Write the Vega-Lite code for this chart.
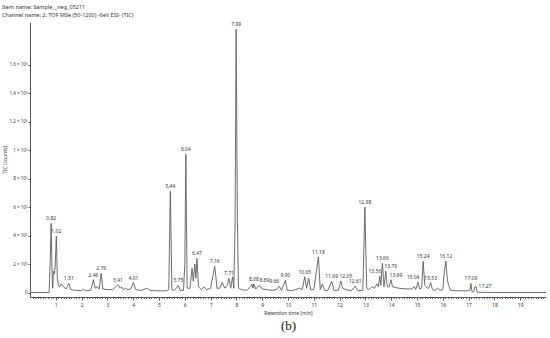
{
  "$schema": "https://vega.github.io/schema/vega-lite/v6.json",
  "width": 516,
  "height": 275,
  "autosize": "none",
  "padding": {"left": 30, "top": 22, "right": 4, "bottom": 41},
  "background": "white",
  "config": {"view": {"stroke": null}, "font": "Noto Sans"},
  "title": {
    "text": "Item name: Sample__neg_05211",
    "subtitle": "Channel name: 2: TOF MSe (50-1200) -6eV ESI- (TIC)",
    "anchor": "start",
    "frame": "group",
    "dx": -28,
    "offset": 4,
    "fontSize": 5.5,
    "fontWeight": "normal",
    "color": "#333333",
    "subtitleFontSize": 5.5,
    "subtitleColor": "#333333",
    "subtitlePadding": 2
  },
  "datasets": {
    "tic": [
      {"t": 0, "v": 0}, {"t": 0.5, "v": 0}, {"t": 0.74, "v": 0}, {"t": 0.78, "v": 200000},
      {"t": 0.82, "v": 485000}, {"t": 0.86, "v": 100000}, {"t": 0.88, "v": 30000},
      {"t": 0.91, "v": 150000}, {"t": 0.95, "v": 130000}, {"t": 0.98, "v": 200000},
      {"t": 1.02, "v": 395000}, {"t": 1.06, "v": 100000}, {"t": 1.1, "v": 50000},
      {"t": 1.15, "v": 40000}, {"t": 1.2, "v": 60000}, {"t": 1.3, "v": 40000},
      {"t": 1.4, "v": 25000}, {"t": 1.51, "v": 64000}, {"t": 1.58, "v": 20000},
      {"t": 1.8, "v": 15000}, {"t": 2.0, "v": 12000}, {"t": 2.07, "v": 25000},
      {"t": 2.15, "v": 12000}, {"t": 2.35, "v": 15000}, {"t": 2.46, "v": 90000},
      {"t": 2.52, "v": 30000}, {"t": 2.6, "v": 40000}, {"t": 2.68, "v": 25000},
      {"t": 2.76, "v": 135000}, {"t": 2.82, "v": 25000}, {"t": 3.0, "v": 20000},
      {"t": 3.2, "v": 20000}, {"t": 3.3, "v": 35000}, {"t": 3.41, "v": 55000},
      {"t": 3.5, "v": 30000}, {"t": 3.55, "v": 40000}, {"t": 3.62, "v": 20000},
      {"t": 3.7, "v": 30000}, {"t": 3.8, "v": 20000}, {"t": 3.9, "v": 25000},
      {"t": 4.01, "v": 70000}, {"t": 4.1, "v": 20000}, {"t": 4.3, "v": 15000},
      {"t": 4.55, "v": 30000}, {"t": 4.65, "v": 15000}, {"t": 4.9, "v": 12000},
      {"t": 5.1, "v": 12000}, {"t": 5.3, "v": 12000}, {"t": 5.38, "v": 20000},
      {"t": 5.44, "v": 710000}, {"t": 5.5, "v": 20000}, {"t": 5.6, "v": 15000},
      {"t": 5.75, "v": 50000}, {"t": 5.82, "v": 15000}, {"t": 5.95, "v": 15000},
      {"t": 6.0, "v": 200000}, {"t": 6.04, "v": 970000}, {"t": 6.09, "v": 30000},
      {"t": 6.2, "v": 30000}, {"t": 6.28, "v": 170000}, {"t": 6.33, "v": 80000},
      {"t": 6.39, "v": 200000}, {"t": 6.43, "v": 100000}, {"t": 6.47, "v": 240000},
      {"t": 6.53, "v": 40000}, {"t": 6.65, "v": 20000}, {"t": 6.75, "v": 40000},
      {"t": 6.85, "v": 20000}, {"t": 7.0, "v": 30000}, {"t": 7.16, "v": 185000},
      {"t": 7.25, "v": 30000}, {"t": 7.35, "v": 30000}, {"t": 7.45, "v": 70000},
      {"t": 7.55, "v": 30000}, {"t": 7.65, "v": 50000}, {"t": 7.71, "v": 100000},
      {"t": 7.78, "v": 30000}, {"t": 7.85, "v": 110000}, {"t": 7.9, "v": 30000},
      {"t": 7.95, "v": 500000}, {"t": 7.99, "v": 1850000}, {"t": 8.04, "v": 500000},
      {"t": 8.08, "v": 30000}, {"t": 8.2, "v": 20000}, {"t": 8.4, "v": 15000},
      {"t": 8.55, "v": 40000}, {"t": 8.6, "v": 60000}, {"t": 8.64, "v": 30000},
      {"t": 8.68, "v": 60000}, {"t": 8.75, "v": 25000}, {"t": 8.89, "v": 50000},
      {"t": 9.0, "v": 25000}, {"t": 9.2, "v": 20000}, {"t": 9.4, "v": 15000},
      {"t": 9.55, "v": 20000}, {"t": 9.66, "v": 45000}, {"t": 9.75, "v": 15000},
      {"t": 9.9, "v": 85000}, {"t": 9.97, "v": 15000}, {"t": 10.2, "v": 15000},
      {"t": 10.45, "v": 30000}, {"t": 10.55, "v": 20000}, {"t": 10.65, "v": 110000},
      {"t": 10.72, "v": 30000}, {"t": 10.8, "v": 100000}, {"t": 10.88, "v": 20000},
      {"t": 11.0, "v": 20000}, {"t": 11.18, "v": 250000}, {"t": 11.25, "v": 20000},
      {"t": 11.33, "v": 60000}, {"t": 11.42, "v": 15000}, {"t": 11.55, "v": 15000},
      {"t": 11.69, "v": 78000}, {"t": 11.78, "v": 15000}, {"t": 11.95, "v": 15000},
      {"t": 12.05, "v": 80000}, {"t": 12.12, "v": 30000}, {"t": 12.25, "v": 20000},
      {"t": 12.45, "v": 12000}, {"t": 12.61, "v": 45000}, {"t": 12.7, "v": 12000},
      {"t": 12.9, "v": 15000}, {"t": 12.98, "v": 600000}, {"t": 13.05, "v": 30000},
      {"t": 13.12, "v": 20000}, {"t": 13.25, "v": 40000}, {"t": 13.35, "v": 30000},
      {"t": 13.45, "v": 60000}, {"t": 13.5, "v": 40000}, {"t": 13.56, "v": 115000},
      {"t": 13.6, "v": 50000}, {"t": 13.66, "v": 205000}, {"t": 13.72, "v": 40000},
      {"t": 13.79, "v": 150000}, {"t": 13.85, "v": 40000}, {"t": 13.92, "v": 40000},
      {"t": 13.99, "v": 90000}, {"t": 14.05, "v": 40000}, {"t": 14.3, "v": 30000},
      {"t": 14.6, "v": 25000}, {"t": 14.8, "v": 25000}, {"t": 14.9, "v": 40000},
      {"t": 14.95, "v": 20000}, {"t": 15.04, "v": 73000}, {"t": 15.1, "v": 25000},
      {"t": 15.18, "v": 30000}, {"t": 15.24, "v": 220000}, {"t": 15.3, "v": 50000},
      {"t": 15.4, "v": 30000}, {"t": 15.45, "v": 30000}, {"t": 15.53, "v": 70000},
      {"t": 15.6, "v": 20000}, {"t": 15.7, "v": 15000}, {"t": 15.8, "v": 30000},
      {"t": 15.9, "v": 15000}, {"t": 16.0, "v": 20000}, {"t": 16.06, "v": 150000},
      {"t": 16.12, "v": 220000}, {"t": 16.18, "v": 80000}, {"t": 16.25, "v": 40000},
      {"t": 16.3, "v": 15000}, {"t": 16.6, "v": 12000}, {"t": 17.0, "v": 12000},
      {"t": 17.05, "v": 15000}, {"t": 17.09, "v": 64000}, {"t": 17.13, "v": 5000},
      {"t": 17.2, "v": 5000}, {"t": 17.24, "v": 40000}, {"t": 17.3, "v": 40000},
      {"t": 17.33, "v": 2000}, {"t": 18, "v": 0}, {"t": 20, "v": 0}
    ],
    "peaks": [
      {"t": 0.82, "v": 485000, "label": "0.82"},
      {"t": 1.02, "v": 395000, "label": "1.02"},
      {"t": 1.51, "v": 64000, "label": "1.51"},
      {"t": 2.46, "v": 90000, "label": "2.46"},
      {"t": 2.76, "v": 135000, "label": "2.76"},
      {"t": 3.41, "v": 55000, "label": "3.41"},
      {"t": 4.01, "v": 70000, "label": "4.01"},
      {"t": 5.44, "v": 710000, "label": "5.44"},
      {"t": 5.75, "v": 50000, "label": "5.75"},
      {"t": 6.04, "v": 970000, "label": "6.04"},
      {"t": 6.47, "v": 240000, "label": "6.47"},
      {"t": 7.16, "v": 185000, "label": "7.16"},
      {"t": 7.71, "v": 100000, "label": "7.71"},
      {"t": 7.99, "v": 1850000, "label": "7.99"},
      {"t": 8.68, "v": 60000, "label": "8.68"},
      {"t": 8.89, "v": 50000, "label": "8.89"},
      {"t": 9.66, "v": 45000, "label": "9.66"},
      {"t": 9.9, "v": 85000, "label": "9.90"},
      {"t": 10.65, "v": 110000, "label": "10.65"},
      {"t": 11.18, "v": 250000, "label": "11.18"},
      {"t": 11.69, "v": 78000, "label": "11.69"},
      {"t": 12.05, "v": 80000, "label": "12.05"},
      {"t": 12.61, "v": 45000, "label": "12.61"},
      {"t": 12.98, "v": 600000, "label": "12.98"},
      {"t": 13.56, "v": 115000, "label": "13.56"},
      {"t": 13.66, "v": 205000, "label": "13.66"},
      {"t": 13.79, "v": 150000, "label": "13.79"},
      {"t": 13.99, "v": 90000, "label": "13.99"},
      {"t": 15.04, "v": 73000, "label": "15.04"},
      {"t": 15.24, "v": 220000, "label": "15.24"},
      {"t": 15.53, "v": 70000, "label": "15.53"},
      {"t": 16.12, "v": 220000, "label": "16.12"},
      {"t": 17.09, "v": 64000, "label": "17.09"},
      {"t": 17.27, "v": 40000, "label": "17.27"}
    ]
  },
  "encoding": {
    "y": {
      "field": "v", "type": "quantitative",
      "scale": {"domain": [-31600, 1900000], "nice": false, "zero": false},
      "axis": {
        "values": [0, 200000, 400000, 600000, 800000, 1000000, 1200000, 1400000, 1600000],
        "labelExpr": "datum.value == 0 ? '0' : (datum.value >= 1000000 ? (datum.value / 1000000) + ' × 10⁶' : (datum.value / 100000) + ' × 10⁵')",
        "labelOverlap": false,
        "grid": false,
        "domainColor": "#555555",
        "tickColor": "#555555",
        "tickSize": 2,
        "labelFontSize": 4.5,
        "labelColor": "#333333",
        "labelPadding": 1,
        "title": "TIC [counts]",
        "titleFontSize": 5,
        "titleFontWeight": "normal",
        "titleColor": "#333333",
        "titlePadding": 2
      }
    }
  },
  "layer": [
    {
      "data": {"name": "tic"},
      "mark": {"type": "line", "stroke": "#5c5c5c", "strokeWidth": 0.9, "clip": true},
      "encoding": {
        "x": {
          "field": "t", "type": "quantitative",
          "scale": {"domain": [0, 20], "nice": false, "zero": false},
          "axis": {
            "orient": "bottom",
            "values": [1,2,3,4,5,6,7,8,9,10,11,12,13,14,15,16,17,18,19],
            "format": "d",
            "grid": false,
            "domainColor": "#555555",
            "tickColor": "#555555",
            "tickSize": 3,
            "labelFontSize": 5,
            "labelColor": "#333333",
            "labelPadding": 2,
            "title": "Retention time [min]",
            "titleFontSize": 5,
            "titleFontWeight": "normal",
            "titleColor": "#333333",
            "titlePadding": 3
          }
        }
      }
    },
    {
      "data": {"name": "peaks"},
      "transform": [{"filter": "indexof(['17.27','9.66','13.56','15.04','8.89','12.05','13.79','13.99'], datum.label) < 0"}],
      "mark": {"type": "text", "baseline": "bottom", "dy": -2, "fontSize": 5, "fill": "#333333"},
      "encoding": {
        "x": {
          "field": "t", "type": "quantitative",
          "axis": {
            "orient": "bottom",
            "values": [0.1,0.2,0.3,0.4,0.5,0.6,0.7,0.8,0.9,1.1,1.2,1.3,1.4,1.5,1.6,1.7,1.8,1.9,2.1,2.2,2.3,2.4,2.5,2.6,2.7,2.8,2.9,3.1,3.2,3.3,3.4,3.5,3.6,3.7,3.8,3.9,4.1,4.2,4.3,4.4,4.5,4.6,4.7,4.8,4.9,5.1,5.2,5.3,5.4,5.5,5.6,5.7,5.8,5.9,6.1,6.2,6.3,6.4,6.5,6.6,6.7,6.8,6.9,7.1,7.2,7.3,7.4,7.5,7.6,7.7,7.8,7.9,8.1,8.2,8.3,8.4,8.5,8.6,8.7,8.8,8.9,9.1,9.2,9.3,9.4,9.5,9.6,9.7,9.8,9.9,10.1,10.2,10.3,10.4,10.5,10.6,10.7,10.8,10.9,11.1,11.2,11.3,11.4,11.5,11.6,11.7,11.8,11.9,12.1,12.2,12.3,12.4,12.5,12.6,12.7,12.8,12.9,13.1,13.2,13.3,13.4,13.5,13.6,13.7,13.8,13.9,14.1,14.2,14.3,14.4,14.5,14.6,14.7,14.8,14.9,15.1,15.2,15.3,15.4,15.5,15.6,15.7,15.8,15.9,16.1,16.2,16.3,16.4,16.5,16.6,16.7,16.8,16.9,17.1,17.2,17.3,17.4,17.5,17.6,17.7,17.8,17.9,18.1,18.2,18.3,18.4,18.5,18.6,18.7,18.8,18.9,19.1,19.2,19.3,19.4,19.5,19.6,19.7,19.8,19.9],
            "labels": false,
            "domain": false,
            "grid": false,
            "tickSize": 1.5,
            "tickColor": "#666666",
            "title": "(b)",
            "titleFont": "Liberation Serif",
            "titleFontSize": 13,
            "titleFontWeight": "normal",
            "titleColor": "#111111",
            "titlePadding": 20
          }
        },
        "text": {"field": "label"}
      }
    },
    {
      "data": {"name": "peaks"},
      "transform": [{"filter": {"field": "label", "oneOf": ["9.66", "13.56", "15.04"]}}],
      "mark": {"type": "text", "baseline": "bottom", "dy": -2, "dx": -5, "fontSize": 5, "fill": "#333333"},
      "encoding": {
        "x": {"field": "t", "type": "quantitative", "axis": null},
        "text": {"field": "label"}
      }
    },
    {
      "data": {"name": "peaks"},
      "transform": [{"filter": {"field": "label", "oneOf": ["8.89", "12.05", "13.79", "13.99"]}}],
      "mark": {"type": "text", "baseline": "bottom", "dy": -2, "dx": 5, "fontSize": 5, "fill": "#333333"},
      "encoding": {
        "x": {"field": "t", "type": "quantitative", "axis": null},
        "text": {"field": "label"}
      }
    },
    {
      "data": {"name": "peaks"},
      "transform": [{"filter": "datum.label == '17.27'"}],
      "mark": {"type": "text", "align": "left", "baseline": "middle", "dx": 3, "dy": -1, "fontSize": 5, "fill": "#333333"},
      "encoding": {
        "x": {"field": "t", "type": "quantitative", "axis": null},
        "text": {"field": "label"}
      }
    }
  ],
  "resolve": {"axis": {"x": "independent"}}
}
